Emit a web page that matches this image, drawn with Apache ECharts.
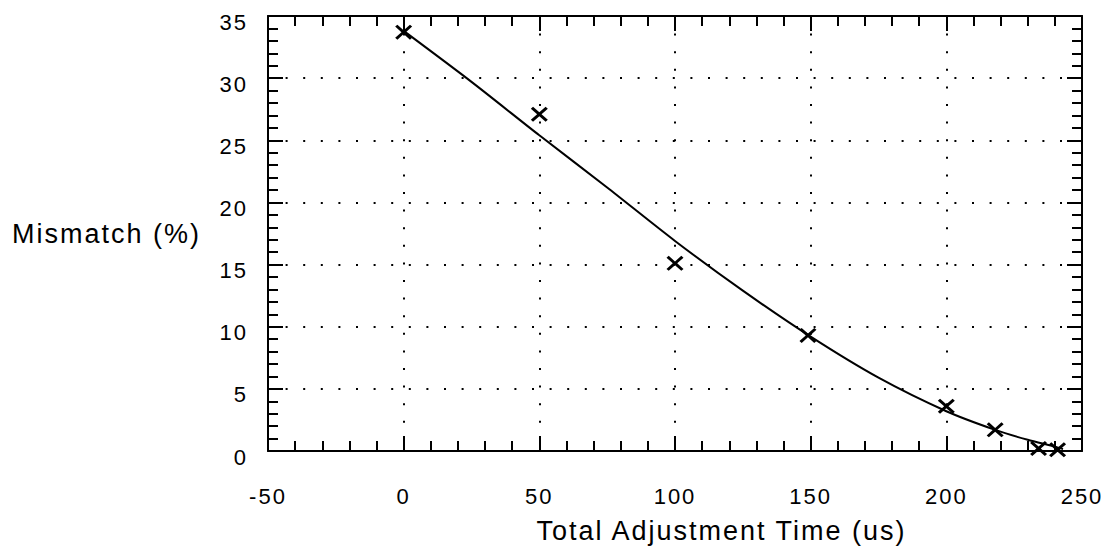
<!DOCTYPE html>
<html>
<head>
<meta charset="utf-8">
<script src="https://cdn.jsdelivr.net/npm/echarts@6/dist/echarts.min.js"></script>
<style>
html,body{margin:0;padding:0;background:#fff}
#c{width:1105px;height:549px}
#c text{letter-spacing:2px}
</style>
</head>
<body>
<div id="c"></div>
<script>
// fitted curve
var curveX = [0, 25, 50, 75, 100, 125, 150, 175, 200, 218, 230, 240, 243];
var curveY = [33.8, 29.7, 25.4, 21.2, 16.9, 12.9, 9.2, 5.9, 3.2, 1.7, 0.9, 0.35, 0.15];
// measured points
var markX = [0, 50, 100, 149, 200, 218, 234, 241];
var markY = [33.7, 27.1, 15.1, 9.3, 3.6, 1.7, 0.2, 0.1];
var xTitle = 'Total Adjustment Time (us)';
var yTitle = 'Mismatch (%)';

var FONT = "'Liberation Sans', Arial, sans-serif";
var chart = echarts.init(document.getElementById('c'), null, { renderer: 'svg' });
function axisBase(extra) {
  var a = {
    type: 'value',
    axisLine: { show: true, onZero: false, lineStyle: { color: '#000', width: 2 } },
    axisTick: { show: true, inside: true, length: 15, lineStyle: { color: '#000', width: 2 } },
    minorTick: { show: true, splitNumber: 5, length: 10, lineStyle: { color: '#000', width: 2 } },
    splitLine: { show: false },
    minorSplitLine: { show: false },
    axisLabel: { show: false }
  };
  return Object.assign(a, extra);
}
var xMain = axisBase({
  min: -50, max: 250, interval: 50, position: 'bottom',
  axisLabel: { show: true, color: '#000', fontSize: 22, fontFamily: FONT, margin: 34 },
  splitLine: { show: true, lineStyle: { color: '#000', width: 2, type: [2, 15.6] } },
  name: xTitle, nameLocation: 'middle', nameGap: 66,
  nameTextStyle: { color: '#000', fontSize: 27, fontFamily: FONT, padding: [0, 0, 0, 93] }
});
var xTop = axisBase({ min: -50, max: 250, interval: 50, position: 'top' });
var yMain = axisBase({
  min: 0, max: 35, interval: 5, position: 'left',
  axisLabel: { show: true, color: '#000', fontSize: 22, fontFamily: FONT, margin: 20, verticalAlign: 'top', lineHeight: 12 },
  splitLine: { show: true, lineStyle: { color: '#000', width: 2, type: [2, 15.6] } },
  name: yTitle, nameLocation: 'middle', nameGap: 67, nameRotate: 0,
  nameTextStyle: { color: '#000', fontSize: 27, fontFamily: FONT, align: 'right', padding: [6, 0, 0, 0] }
});
var yRight = axisBase({ min: 0, max: 35, interval: 5, position: 'right' });

var lineData = curveX.map(function (x, i) { return [x, curveY[i]]; });
var markData = markX.map(function (x, i) { return [x, markY[i]]; });

chart.setOption({
  backgroundColor: '#fff',
  animation: false,
  grid: { left: 268, right: 23, top: 16, bottom: 95 },
  xAxis: [xMain, xTop],
  yAxis: [yMain, yRight],
  series: [
    {
      type: 'line', xAxisIndex: 0, yAxisIndex: 0,
      data: lineData, smooth: 0.25, showSymbol: false, symbol: 'none',
      lineStyle: { color: '#000', width: 2 }
    },
    {
      type: 'scatter', xAxisIndex: 0, yAxisIndex: 0,
      data: markData,
      symbol: 'path://M0 13L13 0L50 37L87 0L100 13L63 50L100 87L87 100L50 63L13 100L0 87L37 50Z',
      symbolSize: [17, 15],
      itemStyle: { color: '#000', borderWidth: 0, opacity: 1 }
    }
  ]
});
</script>
</body>
</html>
